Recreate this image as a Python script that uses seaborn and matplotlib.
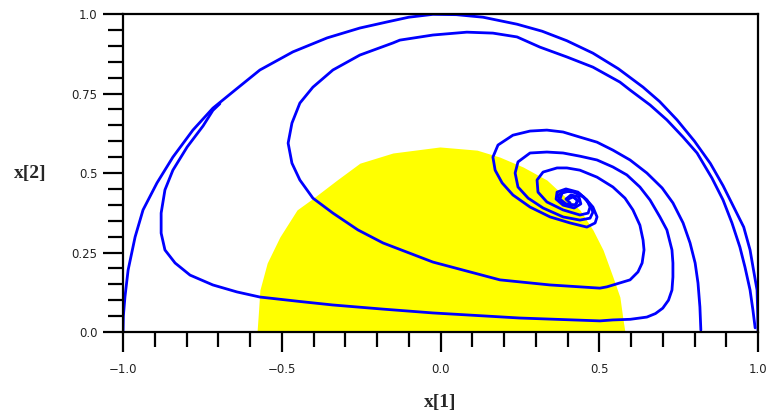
import matplotlib
matplotlib.use("Agg")
import matplotlib.pyplot as plt
from matplotlib.ticker import MultipleLocator
import seaborn as sns

# Trajectories in the (x[1], x[2]) plane

# A: outer arc from (1, 0) round to (-1, 0)
A_x = [1.0, 0.999, 0.997, 0.985, 0.975, 0.955, 0.925, 0.89, 0.85, 0.80, 0.745, 0.69,
       0.638, 0.56, 0.48, 0.398, 0.32, 0.241, 0.134, 0.05, -0.024, -0.10, -0.169,
       -0.254, -0.357, -0.465, -0.569, -0.647, -0.717, -0.780, -0.843, -0.893, -0.937,
       -0.962, -0.984, -0.994, -0.999, -1.0]
A_y = [0.0, 0.06, 0.132, 0.20, 0.258, 0.33, 0.39, 0.46, 0.53, 0.60, 0.667, 0.725,
       0.77, 0.828, 0.877, 0.916, 0.946, 0.968, 0.99, 0.998, 0.999, 0.99, 0.975,
       0.956, 0.925, 0.881, 0.824, 0.761, 0.704, 0.635, 0.550, 0.469, 0.384,
       0.299, 0.195, 0.110, 0.05, 0.0]

# B: starts on the circle at upper left, runs along the bottom, spirals in
B_x = [-0.695, -0.717, -0.748, -0.798, -0.843, -0.868, -0.880, -0.880, -0.868, -0.836,
       -0.789, -0.717, -0.641, -0.569, -0.443, -0.339, -0.181, -0.024, 0.250, 0.502,
       0.543, 0.598, 0.650, 0.677, 0.700, 0.718, 0.729, 0.732, 0.732, 0.729, 0.713,
       0.691, 0.660, 0.628, 0.587, 0.543, 0.493, 0.439, 0.386, 0.335, 0.282, 0.244,
       0.235, 0.244, 0.276, 0.323, 0.386, 0.439, 0.471, 0.480, 0.471, 0.45, 0.42,
       0.39, 0.37, 0.375, 0.40, 0.425, 0.432, 0.415, 0.40]
B_y = [0.718, 0.697, 0.648, 0.582, 0.509, 0.447, 0.374, 0.311, 0.258, 0.217,
       0.179, 0.148, 0.126, 0.110, 0.096, 0.085, 0.072, 0.060, 0.044, 0.035,
       0.038, 0.040, 0.047, 0.058, 0.075, 0.100, 0.132, 0.173, 0.217, 0.258, 0.321,
       0.362, 0.415, 0.456, 0.494, 0.519, 0.541, 0.553, 0.563, 0.566, 0.563, 0.535,
       0.500, 0.456, 0.421, 0.390, 0.362, 0.352, 0.358, 0.377, 0.400, 0.425, 0.44,
       0.443, 0.43, 0.41, 0.398, 0.40, 0.415, 0.427, 0.42]

# C: starts near (1, 0) inside A, over the top, through the yellow region
C_x = [0.991, 0.984, 0.975, 0.959, 0.943, 0.918, 0.890, 0.855, 0.808, 0.764, 0.713,
       0.660, 0.597, 0.565, 0.480, 0.398, 0.313, 0.241, 0.165, 0.083, -0.024, -0.128,
       -0.150, -0.254, -0.339, -0.402, -0.443, -0.468, -0.480, -0.468, -0.443, -0.402,
       -0.339, -0.260, -0.181, -0.024, 0.187, 0.345, 0.502, 0.524, 0.597, 0.622,
       0.635, 0.641, 0.638, 0.628, 0.606, 0.581, 0.543, 0.493, 0.439, 0.398, 0.367,
       0.323, 0.304, 0.307, 0.335, 0.386, 0.439, 0.465, 0.471, 0.461, 0.439, 0.408,
       0.383, 0.376, 0.395, 0.424, 0.433, 0.418, 0.402]
C_y = [0.013, 0.069, 0.132, 0.204, 0.267, 0.343, 0.415, 0.484, 0.563, 0.613, 0.667,
       0.714, 0.761, 0.786, 0.833, 0.865, 0.896, 0.928, 0.940, 0.943, 0.934, 0.918,
       0.909, 0.871, 0.824, 0.770, 0.720, 0.657, 0.594, 0.531, 0.478, 0.421,
       0.374, 0.321, 0.280, 0.220, 0.164, 0.148, 0.138, 0.142, 0.164, 0.189,
       0.217, 0.258, 0.289, 0.336, 0.384, 0.421, 0.456, 0.487, 0.509, 0.516, 0.516,
       0.503, 0.478, 0.440, 0.409, 0.384, 0.368, 0.374, 0.393, 0.415, 0.434, 0.444,
       0.437, 0.418, 0.403, 0.399, 0.412, 0.425, 0.418]

# D: starts on the bottom edge near x[1] = 0.82
D_x = [0.820, 0.817, 0.811, 0.802, 0.786, 0.764, 0.732, 0.698, 0.650, 0.597, 0.543,
       0.493, 0.439, 0.386, 0.335, 0.282, 0.228, 0.181, 0.165, 0.172, 0.194, 0.228,
       0.282, 0.345, 0.408, 0.461, 0.487, 0.493, 0.480, 0.461, 0.433, 0.395, 0.367,
       0.364, 0.386, 0.421, 0.442, 0.436, 0.411, 0.395, 0.408]
D_y = [0.006, 0.079, 0.154, 0.217, 0.280, 0.343, 0.406, 0.453, 0.500, 0.541, 0.572,
       0.597, 0.613, 0.629, 0.635, 0.632, 0.619, 0.588, 0.550, 0.509, 0.469, 0.431,
       0.393, 0.362, 0.343, 0.330, 0.343, 0.362, 0.393, 0.415, 0.440, 0.450, 0.440,
       0.418, 0.399, 0.390, 0.403, 0.425, 0.431, 0.418, 0.406]

# yellow region, upper boundary
yellow_x = [-0.578, -0.573, -0.569, -0.546, -0.506, -0.452, -0.402, -0.326, -0.254, -0.150,
            -0.002, 0.115, 0.187, 0.260, 0.335, 0.376, 0.439, 0.480, 0.512, 0.543,
            0.565, 0.575, 0.581]
yellow_y = [0.0, 0.07, 0.132, 0.217, 0.299, 0.384, 0.420, 0.478, 0.531, 0.563,
            0.582, 0.572, 0.550, 0.519, 0.478, 0.440, 0.384, 0.321, 0.258, 0.173,
            0.110, 0.038, 0.0]

x_major = [-1.0, -0.5, 0.0, 0.5, 1.0]
x_labels = ["\u22121.0", "\u22120.5", "0.0", "0.5", "1.0"]
y_major = [0.0, 0.25, 0.5, 0.75, 1.0]
y_labels = ["0.0", "0.25", "0.5", "0.75", "1.0"]

sns.set_style("ticks")

fig = plt.figure(figsize=(7.69, 4.19), dpi=100)
ax = fig.add_axes([0.16, 0.2076, 0.8257, 0.7589])

ax.fill_between(yellow_x, yellow_y, 0, color="#ffff00", linewidth=0)

for xs, ys in [(A_x, A_y), (B_x, B_y), (C_x, C_y), (D_x, D_y)]:
    sns.lineplot(x=xs, y=ys, sort=False, estimator=None, color="#0000ff",
                 linewidth=2.0, ax=ax)

ax.set_xlim(-1, 1)
ax.set_ylim(0, 1)
ax.set_xticks(x_major, labels=x_labels)
ax.set_yticks(y_major, labels=y_labels)
ax.xaxis.set_minor_locator(MultipleLocator(0.1))
ax.yaxis.set_minor_locator(MultipleLocator(0.05))

for side in ["left", "right", "top", "bottom"]:
    ax.spines[side].set_visible(True)
    ax.spines[side].set_color("black")
    ax.spines[side].set_linewidth(1.6)

ax.tick_params(which="major", direction="out", length=14.5, width=1.6, color="black",
               labelsize=8.5, labelcolor="#222222")
ax.tick_params(which="minor", direction="out", length=10.5, width=1.6, color="black")
ax.tick_params(axis="x", which="major", pad=8)
ax.tick_params(axis="y", which="major", pad=4)

ax.set_xlabel("x[1]", fontsize=14, fontweight="bold", family="Liberation Serif",
              va="center")
ax.set_ylabel("x[2]", fontsize=14, fontweight="bold", family="Liberation Serif",
              rotation=0, ha="center", va="center")
ax.xaxis.set_label_coords(0.5, -0.223)
ax.yaxis.set_label_coords(-0.146, 0.5)

fig.savefig("out.png", dpi=100)
